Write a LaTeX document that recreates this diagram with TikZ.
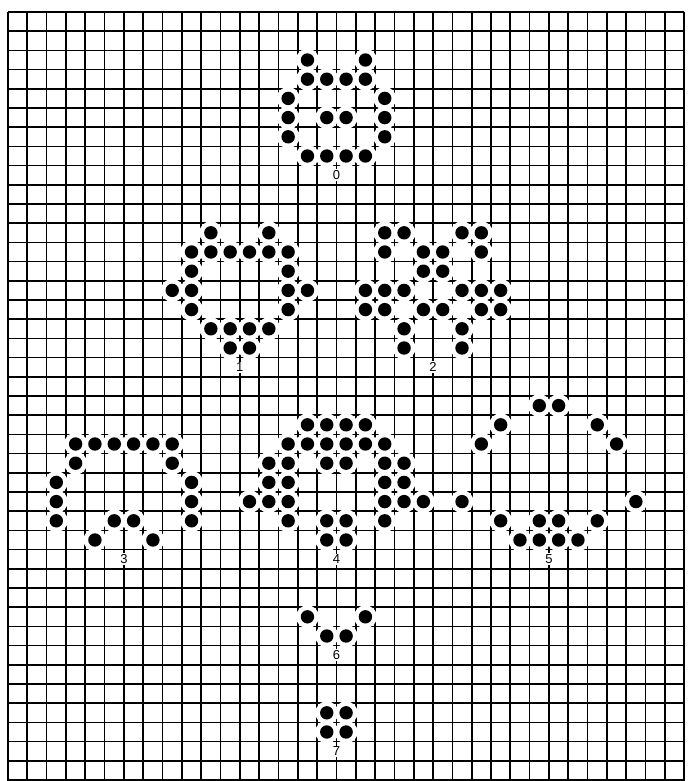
\documentclass[tikz,border=0pt]{standalone}
\usepackage{fontspec}
\setmainfont{Liberation Sans}
\tikzset{
  gridline/.style={line width=1.7pt, black},
  halo/.style={fill=white},
  cellmark/.style={fill=black},
  genlabel/.style={fill=white, inner sep=1.2pt, font=\fontsize{13}{13}\selectfont}
}
\newcommand{\cellset}[1]{%
  \foreach \c/\r in {#1} \fill[halo] (\c+0.5,\r+0.5) circle[radius=11.5pt];%
  \foreach \c/\r in {#1} \fill[cellmark] (\c+0.5,\r+0.5) circle[radius=6.7pt];%
}
\begin{document}
\begin{tikzpicture}[x=1pt,y=-1pt]
\useasboundingbox (0,0) rectangle (691,781);
\fill[white] (0,0) rectangle (691,781);
\begin{scope}[shift={(8,12)}, x=19.32pt, y=-19.2pt]
  % grid
  \foreach \i in {0,...,35} \draw[gridline] (\i,0) -- (\i,40.2);
  \foreach \j in {0,...,40} \draw[gridline] (0,\j) -- (35,\j);
  % generation 0
  \cellset{15/2,18/2,15/3,16/3,17/3,18/3,14/4,19/4,14/5,16/5,17/5,19/5,14/6,19/6,15/7,16/7,17/7,18/7}
  % generation 1
  \cellset{10/11,13/11,9/12,10/12,11/12,12/12,13/12,14/12,9/13,14/13,8/14,9/14,14/14,15/14,9/15,14/15,10/16,11/16,12/16,13/16,11/17,12/17}
  % generation 2
  \cellset{19/11,20/11,23/11,24/11,19/12,21/12,22/12,24/12,21/13,22/13,18/14,19/14,20/14,23/14,24/14,25/14,18/15,19/15,21/15,22/15,24/15,25/15,20/16,23/16,20/17,23/17}
  % generation 3
  \cellset{3/22,4/22,5/22,6/22,7/22,8/22,3/23,8/23,2/24,9/24,2/25,9/25,2/26,5/26,6/26,9/26,4/27,7/27}
  % generation 4
  \cellset{15/21,16/21,17/21,18/21,14/22,15/22,16/22,17/22,18/22,19/22,13/23,14/23,16/23,17/23,19/23,20/23,13/24,14/24,19/24,20/24,12/25,13/25,14/25,19/25,20/25,21/25,14/26,16/26,17/26,19/26,16/27,17/27}
  % generation 5
  \cellset{27/20,28/20,25/21,30/21,24/22,31/22,23/25,32/25,25/26,27/26,28/26,30/26,26/27,27/27,28/27,29/27}
  % generation 6
  \cellset{15/31,18/31,16/32,17/32}
  % generation 7
  \cellset{16/36,17/36,16/37,17/37}
  % labels
  \node[genlabel] (g0) at (17,8.5) {0};
  \node[genlabel] (g1) at (12,18.5) {1};
  \node[genlabel] (g2) at (22,18.5) {2};
  \node[genlabel] (g3) at (6,28.5) {3};
  \node[genlabel] (g4) at (17,28.5) {4};
  \node[genlabel] (g5) at (28,28.5) {5};
  \node[genlabel] (g6) at (17,33.5) {6};
  \node[genlabel] (g7) at (17,38.5) {7};
\end{scope}
\end{tikzpicture}
\end{document}
